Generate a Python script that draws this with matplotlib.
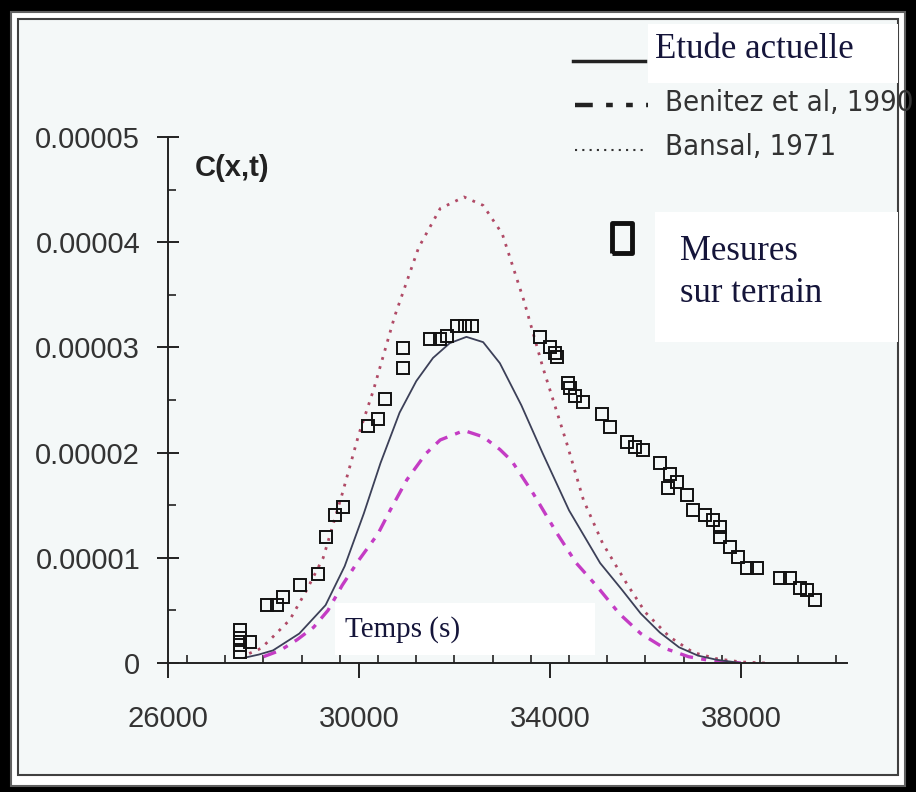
import numpy as np
import matplotlib
matplotlib.use("Agg")
import matplotlib.pyplot as plt
from matplotlib.patches import Rectangle
from matplotlib import font_manager as fm
from matplotlib.ticker import MultipleLocator

# temps (s) et concentrations (x 1e-5)
t_etude = [27600, 27900, 28200, 28750, 29300, 29700, 30100, 30450, 30850, 31200, 31550, 31900,
           32250, 32600, 32950, 33400, 33850, 34400, 35050, 35500, 35900, 36300, 36700, 37100,
           37500, 38000]
c_etude = [0.05, 0.08, 0.12, 0.28, 0.55, 0.92, 1.42, 1.90, 2.38, 2.68, 2.90, 3.04,
           3.10, 3.05, 2.85, 2.45, 1.99, 1.45, 0.95, 0.70, 0.47, 0.29, 0.15, 0.07,
           0.03, 0.0]

t_benitez = [28000, 28350, 28700, 29050, 29350, 29650, 30000, 30400, 30650, 31000, 31400, 31700,
             32200, 32600, 32950, 33200, 33650, 34150, 34550, 35000, 35450, 35900, 36400, 36900,
             37400, 38000]
c_benitez = [0.06, 0.12, 0.22, 0.34, 0.50, 0.74, 0.98, 1.23, 1.45, 1.74, 1.99, 2.12,
             2.21, 2.15, 2.03, 1.92, 1.61, 1.23, 0.95, 0.72, 0.47, 0.28, 0.14, 0.06,
             0.02, 0.0]

t_bansal = [27700, 27950, 28200, 28550, 28900, 29250, 29650, 30000, 30300, 30750, 31250, 31700,
            32200, 32600, 33000, 33450, 33850, 34350, 34700, 35100, 35600, 36000, 36500, 37000,
            37500, 38000, 38500]
c_bansal = [0.09, 0.14, 0.25, 0.41, 0.69, 1.00, 1.61, 2.18, 2.59, 3.30, 3.95, 4.32,
            4.43, 4.35, 4.08, 3.45, 2.81, 2.09, 1.55, 1.14, 0.76, 0.48, 0.25, 0.10,
            0.04, 0.01, 0.0]

t_mes = [27510, 27510, 27510, 27510, 27720, 28070, 28280, 28410, 28760, 29140, 29310, 29500,
         29660, 30190, 30400, 30540, 30920, 30920, 31490, 31700, 31840, 32050, 32220, 32370,
         33790, 34000, 34110, 34150, 34380, 34420, 34520, 34690, 35090, 35260, 35610, 35780,
         35950, 36300, 36510, 36470, 36660, 36870, 36990, 37250, 37410, 37560, 37560, 37770,
         37940, 38130, 38340, 38820, 39030, 39240, 39380, 39550]
c_mes = [0.31, 0.24, 0.17, 0.10, 0.20, 0.55, 0.55, 0.63, 0.74, 0.85, 1.20, 1.41,
         1.48, 2.25, 2.32, 2.51, 2.80, 2.99, 3.08, 3.08, 3.11, 3.20, 3.20, 3.20,
         3.10, 3.00, 2.95, 2.91, 2.66, 2.61, 2.54, 2.48, 2.37, 2.24, 2.10, 2.05,
         2.02, 1.90, 1.80, 1.66, 1.72, 1.60, 1.45, 1.41, 1.36, 1.29, 1.20, 1.10,
         1.01, 0.90, 0.90, 0.81, 0.81, 0.71, 0.69, 0.60]

x_ticks = [26000, 30000, 34000, 38000]
y_ticks = [0, 0.00001, 0.00002, 0.00003, 0.00004, 0.00005]
y_labels = ["0", "0.00001", "0.00002", "0.00003", "0.00004", "0.00005"]

# police etroite si elle existe, sinon Liberation Sans plus petite
etroite = None
for f in fm.fontManager.ttflist:
    if ("Narrow" in f.name or "Condensed" in f.fname) and "Bold" not in f.fname \
            and "Oblique" not in f.fname and "Italic" not in f.fname:
        etroite = f.fname
        break
if etroite:
    prop_leg = fm.FontProperties(fname=etroite, size=21)
else:
    prop_leg = fm.FontProperties(family="Liberation Sans", size=19)

fond = "#f4f8f8"
W, H = 916, 792
fig = plt.figure(figsize=(W / 100, H / 100), dpi=100)

# cadre et encadres blancs (coordonnees pixels)
bg = fig.add_axes([0, 0, 1, 1], zorder=0)
bg.set_xlim(0, W)
bg.set_ylim(H, 0)
bg.axis("off")
bg.add_patch(Rectangle((0, 0), W, H, fc="black", ec="none"))
bg.add_patch(Rectangle((11, 12), 894, 774, fc="white", ec="#606060", lw=1.5))
bg.add_patch(Rectangle((18, 19), 880, 756, fc=fond, ec="#404040", lw=1.5))
bg.add_patch(Rectangle((648, 24), 250, 59, fc="white", ec="none"))
bg.add_patch(Rectangle((655, 212), 243, 130, fc="white", ec="none"))
bg.add_patch(Rectangle((335, 603), 260, 52, fc="white", ec="none"))

# legende
bg.plot([573, 645], [61, 61], color="#222222", lw=2.5)
bg.plot([575, 648], [105, 105], color="#222222", lw=3.2, dashes=(4, 3, 1.5, 3, 1.5, 3))
bg.plot([575, 645], [150, 150], color="#333333", lw=1.5, dashes=(1, 2.5))
rect = [(-0.65, -1), (0.65, -1), (0.65, 1), (-0.65, 1), (-0.65, -1)]
bg.plot([622], [238], marker=rect, ms=22, mfc="none", mec="#111111", mew=3.5)
bg.text(655, 58, "Etude actuelle", fontsize=25, family="Liberation Serif",
        color="#15153a", va="baseline")
bg.text(665, 103, "Benitez et al, 1990", fontproperties=prop_leg,
        color="#333333", va="center")
bg.text(665, 147, "Bansal, 1971", fontproperties=prop_leg,
        color="#333333", va="center")
bg.text(680, 302, "Mesures\nsur terrain", fontsize=25, family="Liberation Serif",
        color="#15153a", va="baseline", linespacing=1.35)
bg.text(345, 630, "Temps (s)", fontsize=21, family="Liberation Serif",
        color="#15153a", va="center")
bg.text(195, 168, "C(x,t)", fontsize=21, family="Liberation Sans", weight="bold",
        color="#222222", va="center")

ax = fig.add_axes([168 / W, 1 - 663 / H, (847 - 168) / W, (663 - 137) / H], zorder=1)
ax.patch.set_alpha(0)
ax.set_xlim(26000, 40220)
ax.set_ylim(0, 0.00005)

ax.plot(t_bansal, np.array(c_bansal) * 1e-5, color="#b04a66", lw=2.0, dashes=(1, 2.4))
ax.plot(t_benitez, np.array(c_benitez) * 1e-5, color="#c43cc4", lw=2.4,
        dashes=(4, 2.5, 1.5, 2.5))
ax.plot(t_etude, np.array(c_etude) * 1e-5, color="#3c4058", lw=1.3)
ax.plot(t_mes, np.array(c_mes) * 1e-5, ls="none", marker="s", ms=8.5,
        mfc="none", mec="#111111", mew=1.4, clip_on=False)

for s in ["top", "right"]:
    ax.spines[s].set_visible(False)
for s in ["left", "bottom"]:
    ax.spines[s].set_linewidth(1.4)
    ax.spines[s].set_color("#222222")

ax.set_xticks(x_ticks)
ax.set_yticks(y_ticks)
ax.set_yticklabels(y_labels)
ax.xaxis.set_minor_locator(MultipleLocator(800))
ax.yaxis.set_minor_locator(MultipleLocator(0.000005))
ax.tick_params(axis="x", which="major", direction="out", length=11, width=1.4,
               pad=19, labelsize=21, labelcolor="#333333", color="#222222")
ax.tick_params(axis="x", which="minor", direction="in", length=6, width=1.2,
               color="#222222")
ax.tick_params(axis="y", which="major", direction="inout", length=16, width=1.4,
               pad=12, labelsize=21, labelcolor="#333333", color="#222222")
ax.tick_params(axis="y", which="minor", direction="in", length=6, width=1.2,
               color="#222222")
for lab in ax.get_xticklabels() + ax.get_yticklabels():
    lab.set_family("Liberation Sans")

fig.savefig("out.png", dpi=100, facecolor="black")
